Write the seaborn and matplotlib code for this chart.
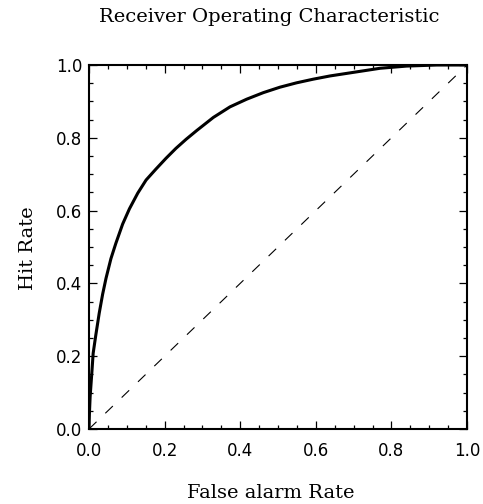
import matplotlib
matplotlib.use("Agg")
import matplotlib.pyplot as plt
import seaborn as sns
import pandas as pd
from matplotlib.ticker import MultipleLocator, FormatStrFormatter

# Data
false_alarm = [0.0, 0.001, 0.003, 0.008, 0.011, 0.018, 0.027, 0.036, 0.045,
               0.058, 0.071, 0.089, 0.107, 0.129, 0.151, 0.177, 0.204, 0.230,
               0.257, 0.285, 0.329, 0.373, 0.417, 0.461, 0.505, 0.549, 0.593,
               0.638, 0.682, 0.726, 0.770, 0.840, 0.920, 1.0]
hit_rate = [0.0, 0.04, 0.089, 0.162, 0.208, 0.258, 0.318, 0.370, 0.414,
            0.468, 0.510, 0.563, 0.605, 0.648, 0.684, 0.714, 0.744, 0.771,
            0.796, 0.820, 0.856, 0.885, 0.906, 0.924, 0.939, 0.951, 0.961,
            0.970, 0.977, 0.984, 0.991, 0.997, 1.0, 1.0]
diag_x = [0.0, 1.0]
diag_y = [0.0, 1.0]

title = "Receiver Operating Characteristic"
xlabel = "False alarm Rate"
ylabel = "Hit Rate"

sns.set_style("ticks")
plt.rcParams["font.family"] = ["DejaVu Serif"]
plt.rcParams["text.color"] = "black"

fig = plt.figure(figsize=(4.83, 5.04), dpi=100)
ax = fig.add_axes([89 / 483, 1 - 429 / 504, 378 / 483, 364 / 504])

roc = pd.DataFrame({"far": false_alarm, "hit": hit_rate})
diag = pd.DataFrame({"x": diag_x, "y": diag_y})

sns.lineplot(data=diag, x="x", y="y", ax=ax, color="black", linewidth=0.8,
             linestyle=(0, (9.4, 11)), sort=False, estimator=None)
sns.lineplot(data=roc, x="far", y="hit", ax=ax, color="black", linewidth=2.2,
             sort=False, estimator=None)

ax.set_xlim(0, 1)
ax.set_ylim(0, 1)
ax.xaxis.set_major_locator(MultipleLocator(0.2))
ax.yaxis.set_major_locator(MultipleLocator(0.2))
ax.xaxis.set_minor_locator(MultipleLocator(0.05))
ax.yaxis.set_minor_locator(MultipleLocator(0.05))
ax.xaxis.set_major_formatter(FormatStrFormatter("%.1f"))
ax.yaxis.set_major_formatter(FormatStrFormatter("%.1f"))

for s in ax.spines.values():
    s.set_linewidth(1.5)
    s.set_color("black")

ax.tick_params(which="both", direction="in", top=True, right=True, color="black",
               labelcolor="black")
ax.tick_params(which="major", length=6, width=0.9)
ax.tick_params(which="minor", length=3, width=0.9)
ax.tick_params(axis="x", which="major", pad=9)
ax.tick_params(axis="y", which="major", pad=5)
for lab in ax.get_xticklabels() + ax.get_yticklabels():
    lab.set_fontfamily("DejaVu Sans")
    lab.set_fontsize(12)

ax.set_xlabel("")
ax.set_ylabel("")
fig.text(269 / 483, 1 - 22 / 504, title, ha="center", va="baseline", fontsize=14,
         color="black")
fig.text(271 / 483, 1 - 498 / 504, xlabel, ha="center", va="baseline", fontsize=14,
         color="black")
fig.text(33 / 483, 1 - 248 / 504, ylabel, ha="center", va="baseline", fontsize=14,
         rotation=90, rotation_mode="anchor", color="black")

fig.savefig("out.png", dpi=100)
